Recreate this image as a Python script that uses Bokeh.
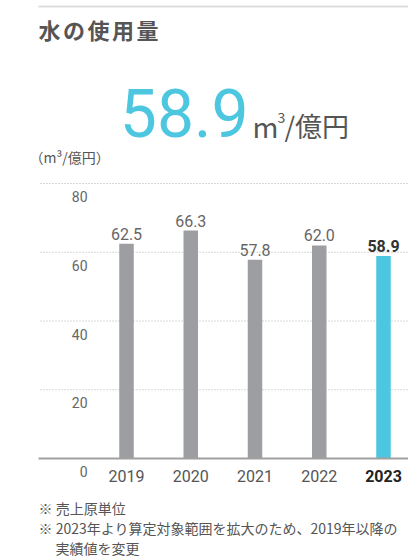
from bokeh.plotting import figure
from bokeh.models import Range1d
from bokeh.embed import file_html
from bokeh.resources import INLINE
from bokeh.core.properties import value

# ---- data ----
years = ["2019", "2020", "2021", "2022", "2023"]
usage = [62.5, 66.3, 57.8, 62.0, 58.9]
value_labels = ["62.5", "66.3", "57.8", "62.0", "58.9"]
y_ticks = [0, 20, 40, 60, 80]
y_tick_labels = ["0", "20", "40", "60", "80"]
title = "水の使用量"
headline_value = "58.9"
headline_unit_parts = ["m", "3", "/億円"]
unit_label = "（m³/億円）"
notes = ["※ 売上原単位", "※ 2023年より算定対象範囲を拡大のため、2019年以降の", "実績値を変更"]

GRAY = "#9d9ea2"
CYAN = "#4dc6e0"
CJK = value("Noto Sans CJK JP")
NUM = value("Roboto")

W, H = 408, 560
# value scale: 0 at page y 458, 80 at page y 183 ; bar centres 126 .. 383 on page
px_per_unit = (458 - 183) / 80.0
px_per_cat = (383 - 126) / 4.0
x0 = (0 - 126) / px_per_cat
x1 = (W - 126) / px_per_cat
y0 = (458 - H) / px_per_unit
y1 = 458 / px_per_unit

p = figure(width=W, height=H, x_range=Range1d(x0, x1), y_range=Range1d(y0, y1),
           x_axis_type=None, y_axis_type=None, toolbar_location=None,
           output_backend="svg", min_border=0)
p.outline_line_color = None
p.background_fill_color = "white"
p.border_fill_color = "white"
# page-pixel layout ranges for non-data text
p.extra_x_ranges = {"px": Range1d(0, W)}
p.extra_y_ranges = {"px": Range1d(H, 0)}

idx = list(range(len(years)))

# top rule
p.segment(x0=[38], x1=[W], y0=[6], y1=[6], line_color="#dddddd", line_width=2,
          x_range_name="px", y_range_name="px")

# title (letter-spaced)
title_chars = list(title)
p.text(x=[38 + 24.5 * i for i in range(len(title_chars))], y=[28] * len(title_chars),
       text=title_chars, text_font=CJK, text_font_size="22px",
       text_font_style="bold", text_color="#555555", text_baseline="middle",
       x_range_name="px", y_range_name="px")

# headline
p.text(x=[248], y=[112], text=[headline_value], text_font=NUM, text_font_size="66px",
       text_color=CYAN, text_align="right", text_baseline="middle",
       x_range_name="px", y_range_name="px")
p.text(x=[252], y=[125], text=[headline_unit_parts[0]], text_font=CJK,
       text_font_size="28px", text_color="#555555", text_baseline="middle",
       x_range_name="px", y_range_name="px")
p.text(x=[277], y=[117], text=[headline_unit_parts[1]], text_font=CJK,
       text_font_size="14px", text_color="#555555", text_baseline="middle",
       x_range_name="px", y_range_name="px")
p.text(x=[284], y=[125], text=[headline_unit_parts[2]], text_font=CJK,
       text_font_size="27px", text_color="#555555", text_baseline="middle",
       x_range_name="px", y_range_name="px")

# unit label
p.text(x=[29], y=[156], text=[unit_label], text_font=CJK, text_font_size="14px",
       text_color="#555555", text_baseline="middle",
       x_range_name="px", y_range_name="px")

# grid lines (dotted)
grid_vals = [t for t in y_ticks if t > 0]
p.segment(x0=[40] * len(grid_vals), x1=[W] * len(grid_vals), y0=grid_vals, y1=grid_vals,
          line_color="#b0b0b0", line_width=1, line_dash="1 2", x_range_name="px")

# y tick labels (below their grid lines)
p.text(x=[87] * len(y_ticks), y=y_ticks, text=y_tick_labels, text_font=NUM,
       text_font_size="14px", text_color="#666666", text_align="right",
       text_baseline="middle", y_offset=13, x_range_name="px")

# bars
colors = [GRAY] * (len(years) - 1) + [CYAN]
p.vbar(x=idx, top=usage, bottom=0, width=14.5 / px_per_cat, fill_color=colors,
       line_color=None)

# baseline
p.segment(x0=[38], x1=[W], y0=[0], y1=[0], line_color="#a0a0a0", line_width=2,
          x_range_name="px")

# value labels
p.text(x=idx[:-1], y=usage[:-1], text=value_labels[:-1], text_font=NUM,
       text_font_size="16px", text_color="#666666", text_align="center",
       text_baseline="middle", y_offset=-10)
p.text(x=idx[-1:], y=usage[-1:], text=value_labels[-1:], text_font=NUM,
       text_font_size="16px", text_font_style="bold", text_color="#333333",
       text_align="center", text_baseline="middle", y_offset=-10)

# year labels
p.text(x=idx[:-1], y=[0] * (len(years) - 1), text=years[:-1], text_font=NUM,
       text_font_size="16px", text_color="#555555", text_align="center",
       text_baseline="middle", y_offset=17)
p.text(x=idx[-1:], y=[0], text=years[-1:], text_font=NUM,
       text_font_size="16px", text_font_style="bold", text_color="#222222",
       text_align="center", text_baseline="middle", y_offset=17)

# footnotes
p.text(x=[38, 38, 55], y=[507, 527, 547], text=notes, text_font=CJK,
       text_font_size="14px", text_color="#555555", text_baseline="middle",
       x_range_name="px", y_range_name="px")

open("out.html", "w").write(file_html(p, INLINE))
